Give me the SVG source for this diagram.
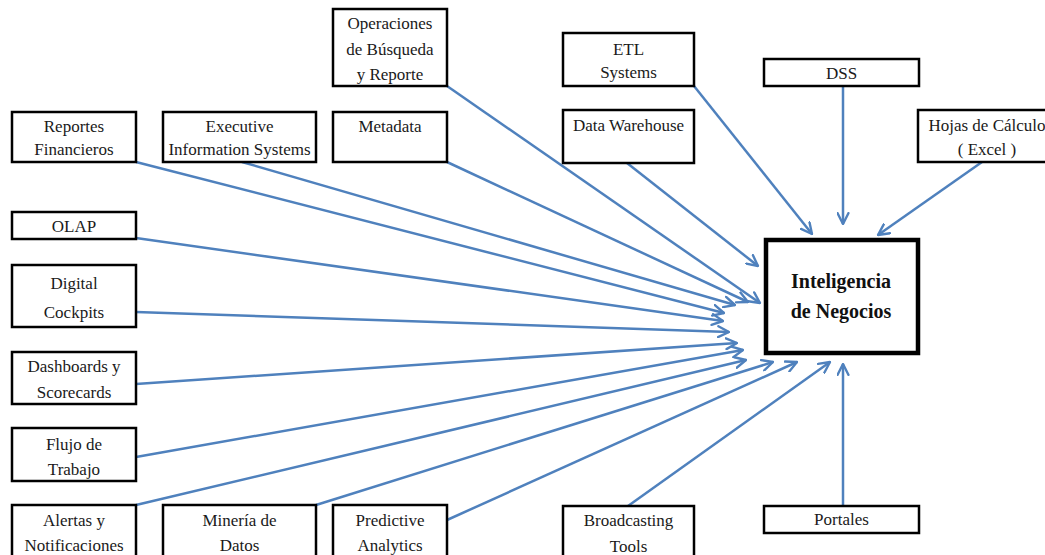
<svg xmlns="http://www.w3.org/2000/svg" width="1045" height="555" viewBox="0 0 1045 555">
  <style>
    .box { fill: #ffffff; stroke: #000000; stroke-width: 2.5; }
    .core { fill: #ffffff; stroke: #000000; stroke-width: 4.5; }
    .lbl { font-family: "Liberation Serif", "Times New Roman", serif; font-size: 17px; fill: #1a1a1a; text-anchor: middle; }
    .title { font-family: "Liberation Serif", "Times New Roman", serif; font-size: 20px; font-weight: bold; fill: #111111; text-anchor: middle; }
    .link { fill: none; stroke: #4f81bd; stroke-width: 2.5; marker-end: url(#arrow); }
  </style>
  <defs>
    <marker id="arrow" viewBox="0 0 12 12" markerWidth="13" markerHeight="13" refX="11" refY="6" orient="auto" markerUnits="userSpaceOnUse">
      <path d="M1,1 L11,6 L1,11" fill="none" stroke="#4f81bd" stroke-width="2.2" stroke-linecap="round" stroke-linejoin="round"/>
    </marker>
  </defs>
  <rect width="1045" height="555" fill="#ffffff"/>

  <!-- connectors: every source points at the central node -->
  <g id="connectors">
    <line class="link" x1="447" y1="86" x2="760" y2="303"/>
    <line class="link" x1="136" y1="162" x2="724" y2="313"/>
    <line class="link" x1="242" y1="162" x2="735" y2="305"/>
    <line class="link" x1="447" y1="162" x2="748" y2="302"/>
    <line class="link" x1="694" y1="86" x2="812" y2="234"/>
    <line class="link" x1="843" y1="86" x2="843" y2="224"/>
    <line class="link" x1="627" y1="163" x2="758" y2="266"/>
    <line class="link" x1="982" y1="162" x2="878" y2="235"/>
    <line class="link" x1="136" y1="238" x2="723" y2="321"/>
    <line class="link" x1="136" y1="312" x2="729" y2="332"/>
    <line class="link" x1="136" y1="384" x2="737" y2="343"/>
    <line class="link" x1="136" y1="457" x2="743" y2="350"/>
    <line class="link" x1="136" y1="505" x2="746" y2="360"/>
    <line class="link" x1="316" y1="505" x2="773" y2="362"/>
    <line class="link" x1="447" y1="520" x2="797" y2="362"/>
    <line class="link" x1="628" y1="506" x2="830" y2="362"/>
    <line class="link" x1="843" y1="506" x2="843" y2="364"/>
  </g>

  <g id="inteligencia-negocios">
    <rect class="core" x="766" y="240" width="152" height="113"/>
    <text class="title" x="841" y="288">Inteligencia</text>
    <text class="title" x="841" y="318">de Negocios</text>
  </g>

  <g id="operaciones-busqueda">
    <rect class="box" x="333" y="9" width="114" height="77"/>
    <text class="lbl" x="390" y="29">Operaciones</text>
    <text class="lbl" x="390" y="55">de Búsqueda</text>
    <text class="lbl" x="390" y="80">y Reporte</text>
  </g>

  <g id="reportes-financieros">
    <rect class="box" x="12" y="112" width="124" height="50"/>
    <text class="lbl" x="74" y="132">Reportes</text>
    <text class="lbl" x="74" y="155">Financieros</text>
  </g>

  <g id="executive-information-systems">
    <rect class="box" x="163" y="112" width="153" height="50"/>
    <text class="lbl" x="239.5" y="132">Executive</text>
    <text class="lbl" x="239.5" y="155">Information Systems</text>
  </g>

  <g id="metadata">
    <rect class="box" x="333" y="112" width="114" height="50"/>
    <text class="lbl" x="390" y="132">Metadata</text>
  </g>

  <g id="etl-systems">
    <rect class="box" x="563" y="33" width="131" height="53"/>
    <text class="lbl" x="628.5" y="55">ETL</text>
    <text class="lbl" x="628.5" y="78">Systems</text>
  </g>

  <g id="dss">
    <rect class="box" x="764" y="59" width="155" height="27"/>
    <text class="lbl" x="841.5" y="79">DSS</text>
  </g>

  <g id="data-warehouse">
    <rect class="box" x="563" y="110" width="131" height="53"/>
    <text class="lbl" x="628.5" y="131">Data Warehouse</text>
  </g>

  <g id="hojas-calculo">
    <rect class="box" x="918" y="110" width="138" height="52"/>
    <text class="lbl" x="987" y="131">Hojas de Cálculo</text>
    <text class="lbl" x="987" y="155">( Excel )</text>
  </g>

  <g id="olap">
    <rect class="box" x="12" y="212" width="124" height="27"/>
    <text class="lbl" x="74" y="232">OLAP</text>
  </g>

  <g id="digital-cockpits">
    <rect class="box" x="12" y="265" width="124" height="62"/>
    <text class="lbl" x="74" y="289">Digital</text>
    <text class="lbl" x="74" y="318">Cockpits</text>
  </g>

  <g id="dashboards-scorecards">
    <rect class="box" x="12" y="352" width="124" height="52"/>
    <text class="lbl" x="74" y="372">Dashboards y</text>
    <text class="lbl" x="74" y="398">Scorecards</text>
  </g>

  <g id="flujo-trabajo">
    <rect class="box" x="12" y="428" width="124" height="53"/>
    <text class="lbl" x="74" y="450">Flujo de</text>
    <text class="lbl" x="74" y="475">Trabajo</text>
  </g>

  <g id="alertas-notificaciones">
    <rect class="box" x="12" y="505" width="124" height="62"/>
    <text class="lbl" x="74" y="526">Alertas y</text>
    <text class="lbl" x="74" y="551">Notificaciones</text>
  </g>

  <g id="mineria-datos">
    <rect class="box" x="163" y="505" width="153" height="62"/>
    <text class="lbl" x="239.5" y="526">Minería de</text>
    <text class="lbl" x="239.5" y="551">Datos</text>
  </g>

  <g id="predictive-analytics">
    <rect class="box" x="333" y="505" width="114" height="62"/>
    <text class="lbl" x="390" y="526">Predictive</text>
    <text class="lbl" x="390" y="551">Analytics</text>
  </g>

  <g id="broadcasting-tools">
    <rect class="box" x="563" y="506" width="131" height="62"/>
    <text class="lbl" x="628.5" y="526">Broadcasting</text>
    <text class="lbl" x="628.5" y="552">Tools</text>
  </g>

  <g id="portales">
    <rect class="box" x="764" y="506" width="155" height="27"/>
    <text class="lbl" x="841.5" y="525">Portales</text>
  </g>
</svg>
